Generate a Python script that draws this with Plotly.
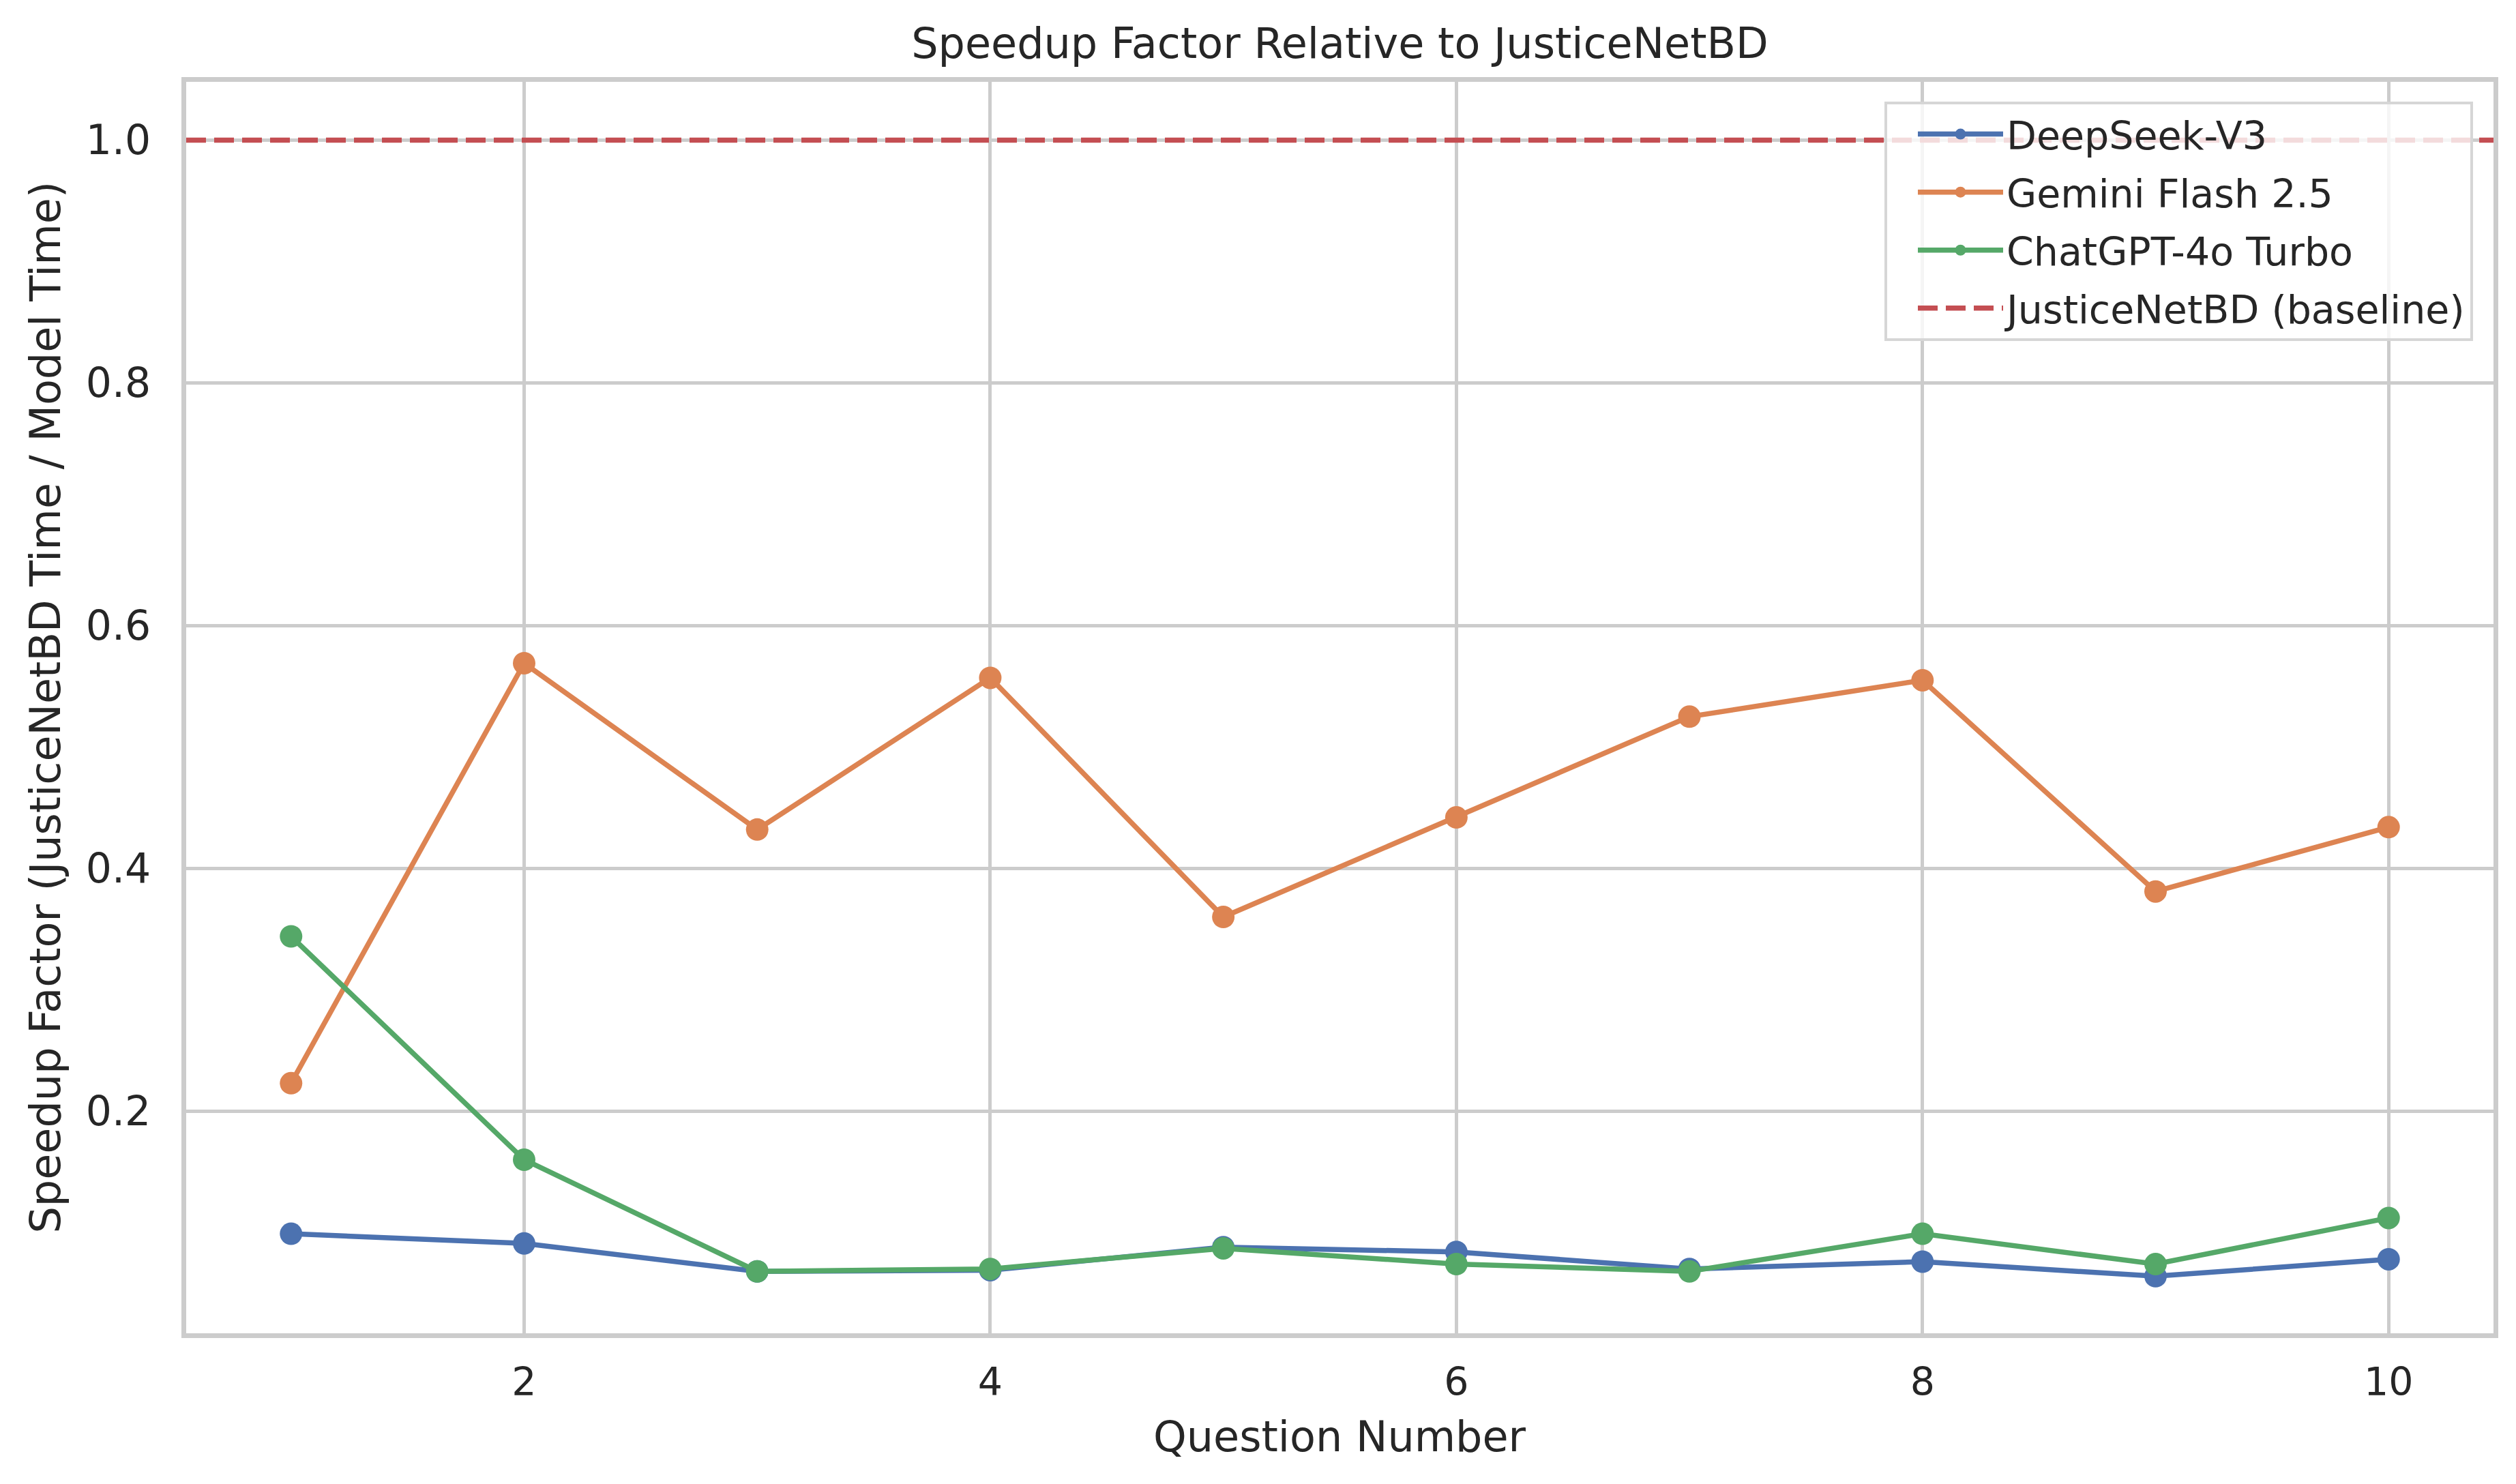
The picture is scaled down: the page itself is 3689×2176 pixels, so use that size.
import plotly.graph_objects as go

questions = [1, 2, 3, 4, 5, 6, 7, 8, 9, 10]
deepseek = [0.099, 0.091, 0.068, 0.069, 0.088, 0.084, 0.070, 0.076, 0.064, 0.078]
gemini = [0.223, 0.569, 0.432, 0.557, 0.360, 0.442, 0.525, 0.555, 0.381, 0.434]
chatgpt = [0.344, 0.160, 0.068, 0.070, 0.087, 0.074, 0.068, 0.099, 0.074, 0.112]
baseline = 1.0

series_names = ["DeepSeek-V3", "Gemini Flash 2.5", "ChatGPT-4o Turbo"]
baseline_name = "JusticeNetBD (baseline)"
title_text = "Speedup Factor Relative to JusticeNetBD"
x_title = "Question Number"
y_title = "Speedup Factor (JusticeNetBD Time / Model Time)"

colors = ["#4C72B0", "#DD8452", "#55A868"]
baseline_color = "#C44E52"
FONT = "DejaVu Sans, Liberation Sans, sans-serif"
TEXT = "#262626"
GRID = "#cccccc"

W, H = 3689, 2176
ML, MR, MT, MB = 265, 41, 112, 229
PW, PH = W - ML - MR, H - MT - MB

fig = go.Figure()
for name, vals, col in zip(series_names, [deepseek, gemini, chatgpt], colors):
    fig.add_trace(go.Scatter(
        x=questions, y=vals, name=name, mode="lines+markers",
        legendgroup=name,
        line=dict(color=col, width=7.5),
        marker=dict(color=col, size=33, line=dict(width=0)),
    ))

fig.add_hline(
    y=baseline, line=dict(color=baseline_color, width=7.5, dash="29px,12px"),
    showlegend=True, name=baseline_name, legendgroup=baseline_name, layer="above",
)

axis_common = dict(
    showgrid=True, gridcolor=GRID, gridwidth=5,
    showline=True, linecolor=GRID, linewidth=6.5, mirror=True,
    zeroline=False, ticks="",
)

fig.update_xaxes(range=[0.55, 10.45], tick0=0, dtick=2, ticklabelstandoff=16,
                 tickfont=dict(family=FONT, size=57, color=TEXT), **axis_common)
fig.update_yaxes(range=[0.017, 1.048], tick0=0, dtick=0.2, tickformat=".1f",
                 ticklabelstandoff=33,
                 tickfont=dict(family=FONT, size=60, color=TEXT), **axis_common)

fig.update_layout(
    width=W, height=H, autosize=False,
    margin=dict(l=ML, r=MR, t=MT, b=MB, pad=0),
    paper_bgcolor="white", plot_bgcolor="white",
    font=dict(family=FONT, color=TEXT, size=57),
    title=dict(text=title_text, x=0.5, xref="paper", xanchor="center",
               y=1 - 55 / H, yref="container", yanchor="middle",
               font=dict(family=FONT, size=62, color=TEXT)),
    legend=dict(
        x=(3618 - ML) / PW, y=1 - (141 - MT) / PH, xanchor="right", yanchor="top",
        bgcolor="rgba(255,255,255,0.8)", bordercolor="#d6d6d6", borderwidth=4,
        font=dict(family=FONT, size=57, color=TEXT),
        itemwidth=125, indentation=40, tracegroupgap=8,
    ),
    annotations=[
        dict(text=x_title, xref="paper", yref="paper", x=0.5, y=0,
             xanchor="center", yanchor="middle", yshift=-151, showarrow=False,
             font=dict(family=FONT, size=62, color=TEXT)),
        dict(text=y_title, xref="paper", yref="paper", x=0, y=0.5,
             xanchor="center", yanchor="middle", xshift=-207, textangle=-90,
             showarrow=False, font=dict(family=FONT, size=62, color=TEXT)),
    ],
)

fig.write_html("out.html")
